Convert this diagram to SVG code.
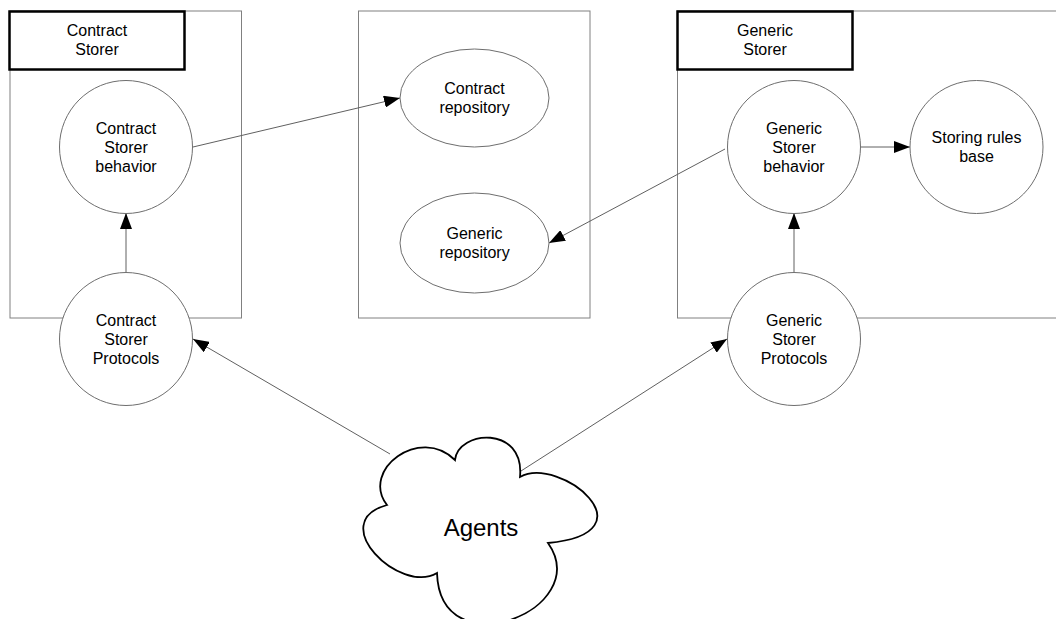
<svg xmlns="http://www.w3.org/2000/svg" width="1056" height="619" viewBox="0 0 1056 619">
<defs>
<style>
.frame{fill:none;stroke:#808080;stroke-width:1}
.header{fill:#fff;stroke:#000;stroke-width:2.5}
.node{fill:#fff;stroke:#6e6e6e;stroke-width:1}
.cloud{fill:#fff;stroke:#000;stroke-width:1.8}
.conn{fill:none;stroke:#606060;stroke-width:1;marker-end:url(#arr)}
.plain{fill:none;stroke:#606060;stroke-width:1}
text{font-family:"Liberation Sans",Arial,sans-serif;font-size:16px;fill:#000;text-anchor:middle}
.big{font-size:24px}
</style>
<marker id="arr" viewBox="0 0 16 12" refX="16" refY="6" markerWidth="16" markerHeight="12" markerUnits="userSpaceOnUse" orient="auto">
<path d="M0,0 L16,6 L0,12 Z" fill="#000"/>
</marker>
</defs>
<rect width="1056" height="619" fill="#fff"/>
<g id="contract-storer-frame">
<rect class="frame" x="10" y="11" width="231.5" height="307"/>
<rect class="header" x="9.5" y="11.5" width="175" height="58"/>
<text x="97" y="36">Contract</text>
<text x="97" y="55">Storer</text>
</g>
<g id="repository-frame">
<rect class="frame" x="358.5" y="11" width="231.5" height="307"/>
</g>
<g id="generic-storer-frame">
<rect class="frame" x="677.5" y="11" width="400" height="307"/>
<rect class="header" x="677.5" y="11.5" width="175" height="58"/>
<text x="765" y="36">Generic</text>
<text x="765" y="55">Storer</text>
</g>
<g id="connectors">
<line class="conn" x1="126" y1="272" x2="126" y2="213"/>
<line class="conn" x1="193" y1="147" x2="400" y2="98"/>
<line class="conn" x1="725" y1="149" x2="549" y2="243"/>
<line class="conn" x1="861" y1="147" x2="910" y2="147"/>
<line class="conn" x1="794" y1="272" x2="794" y2="213"/>
<line class="conn" x1="390" y1="454" x2="193" y2="339"/>
<line class="conn" x1="521" y1="471" x2="727" y2="339"/>
</g>
<g id="contract-storer-behavior">
<circle class="node" cx="126" cy="147" r="66.5"/>
<text x="126" y="134">Contract</text>
<text x="126" y="153">Storer</text>
<text x="126" y="172">behavior</text>
</g>
<g id="contract-storer-protocols">
<circle class="node" cx="126" cy="339" r="66.5"/>
<text x="126" y="326">Contract</text>
<text x="126" y="345">Storer</text>
<text x="126" y="364">Protocols</text>
</g>
<g id="contract-repository">
<ellipse class="node" cx="474.5" cy="98" rx="74.5" ry="49"/>
<text x="474.5" y="94">Contract</text>
<text x="474.5" y="113">repository</text>
</g>
<g id="generic-repository">
<ellipse class="node" cx="474.5" cy="243" rx="74.5" ry="50"/>
<text x="474.5" y="239">Generic</text>
<text x="474.5" y="258">repository</text>
</g>
<g id="generic-storer-behavior">
<circle class="node" cx="794" cy="147" r="66.5"/>
<text x="794" y="134">Generic</text>
<text x="794" y="153">Storer</text>
<text x="794" y="172">behavior</text>
</g>
<g id="storing-rules-base">
<circle class="node" cx="976.5" cy="147" r="66.5"/>
<text x="976.5" y="143">Storing rules</text>
<text x="976.5" y="162">base</text>
</g>
<g id="generic-storer-protocols">
<circle class="node" cx="794" cy="339" r="66.5"/>
<text x="794" y="326">Generic</text>
<text x="794" y="345">Storer</text>
<text x="794" y="364">Protocols</text>
</g>
<g id="agents">
<path class="cloud" d="M387,505 C360,470 420,425 455,460 C458,430 525,425 520,477 C560,455 655,533 548,543 C595,610 440,670 437,573 C400,595 325,522 387,505 Z"/>
<text class="big" x="481" y="536">Agents</text>
</g>
</svg>
